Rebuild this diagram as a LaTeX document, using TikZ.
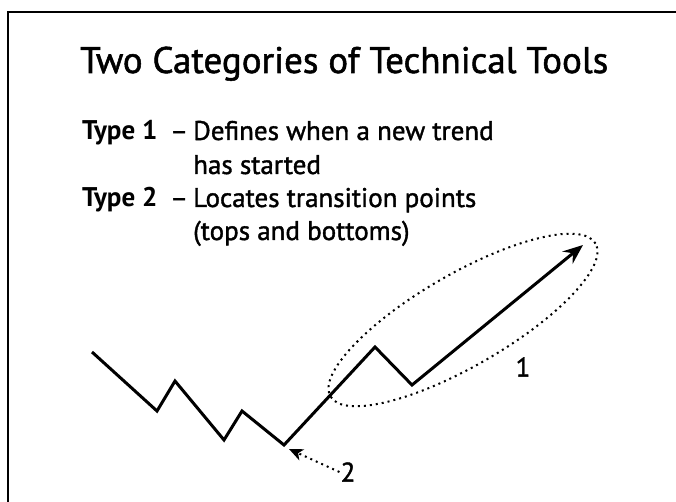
\documentclass[tikz,border=0pt]{standalone}
\usepackage{fontspec}
\setmainfont{PT Sans}
\newfontfamily\medsans[FakeBold=1.4]{PT Sans}
\usepackage{tikz}
\usetikzlibrary{arrows.meta,positioning}
\tikzset{
  heading/.style={font=\medsans\fontsize{37}{44}\selectfont,inner sep=0pt},
  typelbl/.style={font=\fontsize{27}{33}\selectfont\bfseries,inner sep=0pt},
  desc/.style={font=\medsans\fontsize{27}{33}\selectfont,inner sep=0pt},
  trend/.style={line width=3pt,line join=miter},
  ring/.style={line width=2pt,dash pattern=on 2pt off 4pt},
  pointer/.style={line width=2pt,dash pattern=on 2pt off 4pt,
    -{Stealth[length=14pt,width=12pt,inset=4pt]}}
}
\begin{document}
\begin{tikzpicture}[x=1pt,y=-1pt]
\useasboundingbox (0,0) rectangle (676,502);
\draw[line width=2pt] (8,502) -- (8,12) -- (676,12);
\node[heading,anchor=base west] (title) at (80,73) {Two Categories of Technical Tools};
\node[typelbl,anchor=base west] (t1) at (82,140) {Type 1};
\node[desc,anchor=base west] (d1) at (170,140) {–};
\node[desc,anchor=base west] (l1) at (193,140) {Defines when a new trend};
\node[desc,anchor=base west] (l2) at (193,174) {has started};
\node[typelbl,anchor=base west] (t2) at (82,207) {Type 2};
\node[desc,anchor=base west] (d2) at (170,207) {–};
\node[desc,anchor=base west] (l3) at (193,207) {Locates transition points};
\node[desc,anchor=base west] (l4) at (193,240) {(tops and bottoms)};
% price path
\foreach \n/\x/\y in {0/92/352,1/157/411,2/175/381,3/224/440,4/242/411,
  5/284/445,6/375/347,7/412/385,8/583/245}{
  \coordinate (p\n) at (\x,\y);}
\draw[trend,-{Stealth[length=20pt,width=16pt,inset=7pt]}]
  (p0) -- (p1) -- (p2) -- (p3) -- (p4) -- (p5) -- (p6) -- (p7) -- (p8);
\draw[ring,rotate around={30:(463,320)}] (463,320) ellipse [x radius=153pt,y radius=46pt];
\node[desc,inner sep=1pt] (one) at (523,367) {1};
\node[desc,inner sep=1pt] (two) at (348,472) {2};
\coordinate (tip) at (289,449);
\draw[pointer] (two.west) -- (tip);
\end{tikzpicture}
\end{document}
